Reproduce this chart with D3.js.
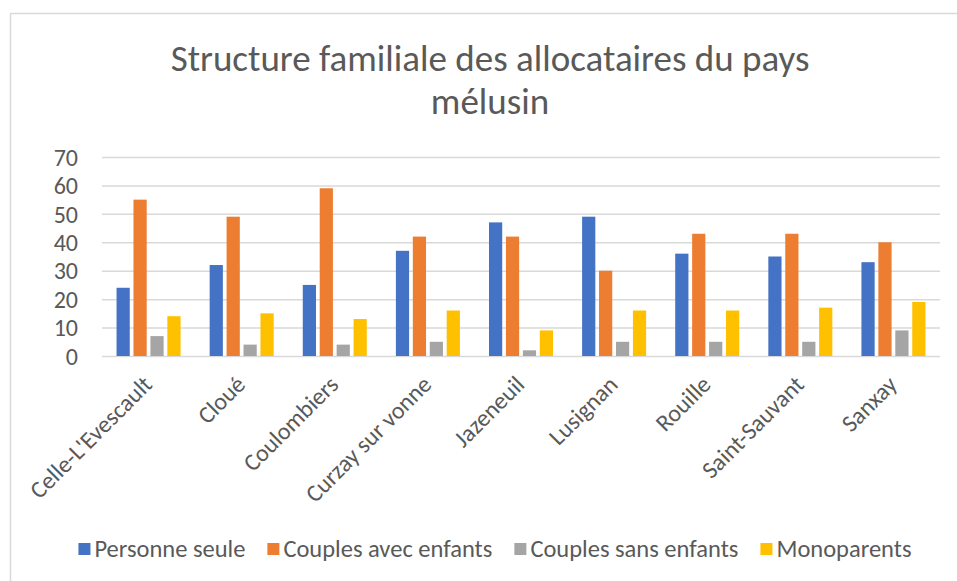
<!DOCTYPE html>
<html><head><meta charset="utf-8">
<script src="https://cdn.jsdelivr.net/npm/d3@7"></script>
<style>body{margin:0;background:#fff}svg{display:block}</style>
</head><body>
<svg id="c" width="957" height="581"></svg>
<script>
const categories = ["Celle-L'Evescault","Cloué","Coulombiers","Curzay sur vonne","Jazeneuil","Lusignan","Rouille","Saint-Sauvant","Sanxay"];
const seriesNames = ["Personne seule","Couples avec enfants","Couples sans enfants","Monoparents"];
const personneSeule = [24,32,25,37,47,49,36,35,33];
const couplesAvecEnfants = [55,49,59,42,42,30,43,43,40];
const couplesSansEnfants = [7,4,4,5,2,5,5,5,9];
const monoparents = [14,15,13,16,9,16,16,17,19];
const yTicks = [0,10,20,30,40,50,60,70];
const titleLines = ["Structure familiale des allocataires du pays","mélusin"];
const colors = ["#4472C4","#ED7D31","#A5A5A5","#FFC000"];

const values = [personneSeule, couplesAvecEnfants, couplesSansEnfants, monoparents];
const FONT = "Carlito, 'Open Sans', sans-serif";
const TXT = "#595959";
const svg = d3.select("#c");

svg.append("rect").attr("x",10.5).attr("y",13.5).attr("width",970).attr("height",600)
  .attr("fill","#fff").attr("stroke","#D9D9D9").attr("stroke-width",1.5);

const L=102, R=940, T=157, B=356;
const x0 = d3.scaleBand().domain(categories).range([L,R]).paddingInner(0.3125).paddingOuter(0.15625);
const x1 = d3.scaleBand().domain(seriesNames).range([0,x0.bandwidth()]).paddingInner(0.22);
const y = d3.scaleLinear().domain([0,70]).range([B,T]);

// grid
const gy = svg.append("g").attr("transform",`translate(${L},0)`)
  .call(d3.axisLeft(y).tickValues(yTicks).tickSize(-(R-L)).tickFormat(""));
gy.select(".domain").remove();
gy.selectAll(".tick line").attr("stroke","#D9D9D9").attr("stroke-width",1.5);

// y labels
const yl = svg.append("g").attr("transform",`translate(${L},0)`)
  .call(d3.axisLeft(y).tickValues(yTicks).tickSize(0).tickPadding(24));
yl.select(".domain").remove();
yl.selectAll("text").attr("font-family",FONT).attr("font-size",24).attr("fill",TXT).attr("dy","0.34em");

// bars
const groups = svg.append("g").selectAll("g").data(categories).join("g")
  .attr("transform",c=>`translate(${x0(c)},0)`);
groups.selectAll("rect").data((c,i)=>seriesNames.map((s,j)=>({s,j,v:values[j][i]})))
  .join("rect")
  .attr("x",d=>x1(d.s)).attr("width",x1.bandwidth())
  .attr("y",d=>y(d.v)).attr("height",d=>y(0)-y(d.v))
  .attr("fill",d=>colors[d.j]);

// x labels
const xa = svg.append("g").attr("transform",`translate(0,${B})`)
  .call(d3.axisBottom(x0).tickSize(0).tickPadding(0));
xa.select(".domain").remove();
xa.selectAll("text").attr("font-family",FONT).attr("font-size",24).attr("fill",TXT)
  .attr("text-anchor","end").attr("dy",0)
  .attr("transform","translate(5,30) rotate(-45)");

// title
svg.append("g").selectAll("text").data(titleLines).join("text")
  .attr("x",490).attr("y",(d,i)=>71+i*43)
  .attr("text-anchor","middle").attr("font-family",FONT).attr("font-size",37)
  .attr("fill",TXT).text(d=>d);

// legend
const lg = svg.append("g");
let cx = 0;
seriesNames.forEach((s,i)=>{
  const g = lg.append("g").attr("transform",`translate(${cx},0)`);
  g.append("rect").attr("x",0).attr("y",-14).attr("width",12).attr("height",12).attr("fill",colors[i]);
  const t = g.append("text").attr("x",16).attr("y",0).attr("font-family",FONT).attr("font-size",24.5)
    .attr("fill",TXT).text(s);
  cx += 16 + t.node().getComputedTextLength() + 22;
});
const lw = cx - 22;
lg.attr("transform",`translate(${495 - lw/2},557)`);
</script>
</body></html>
